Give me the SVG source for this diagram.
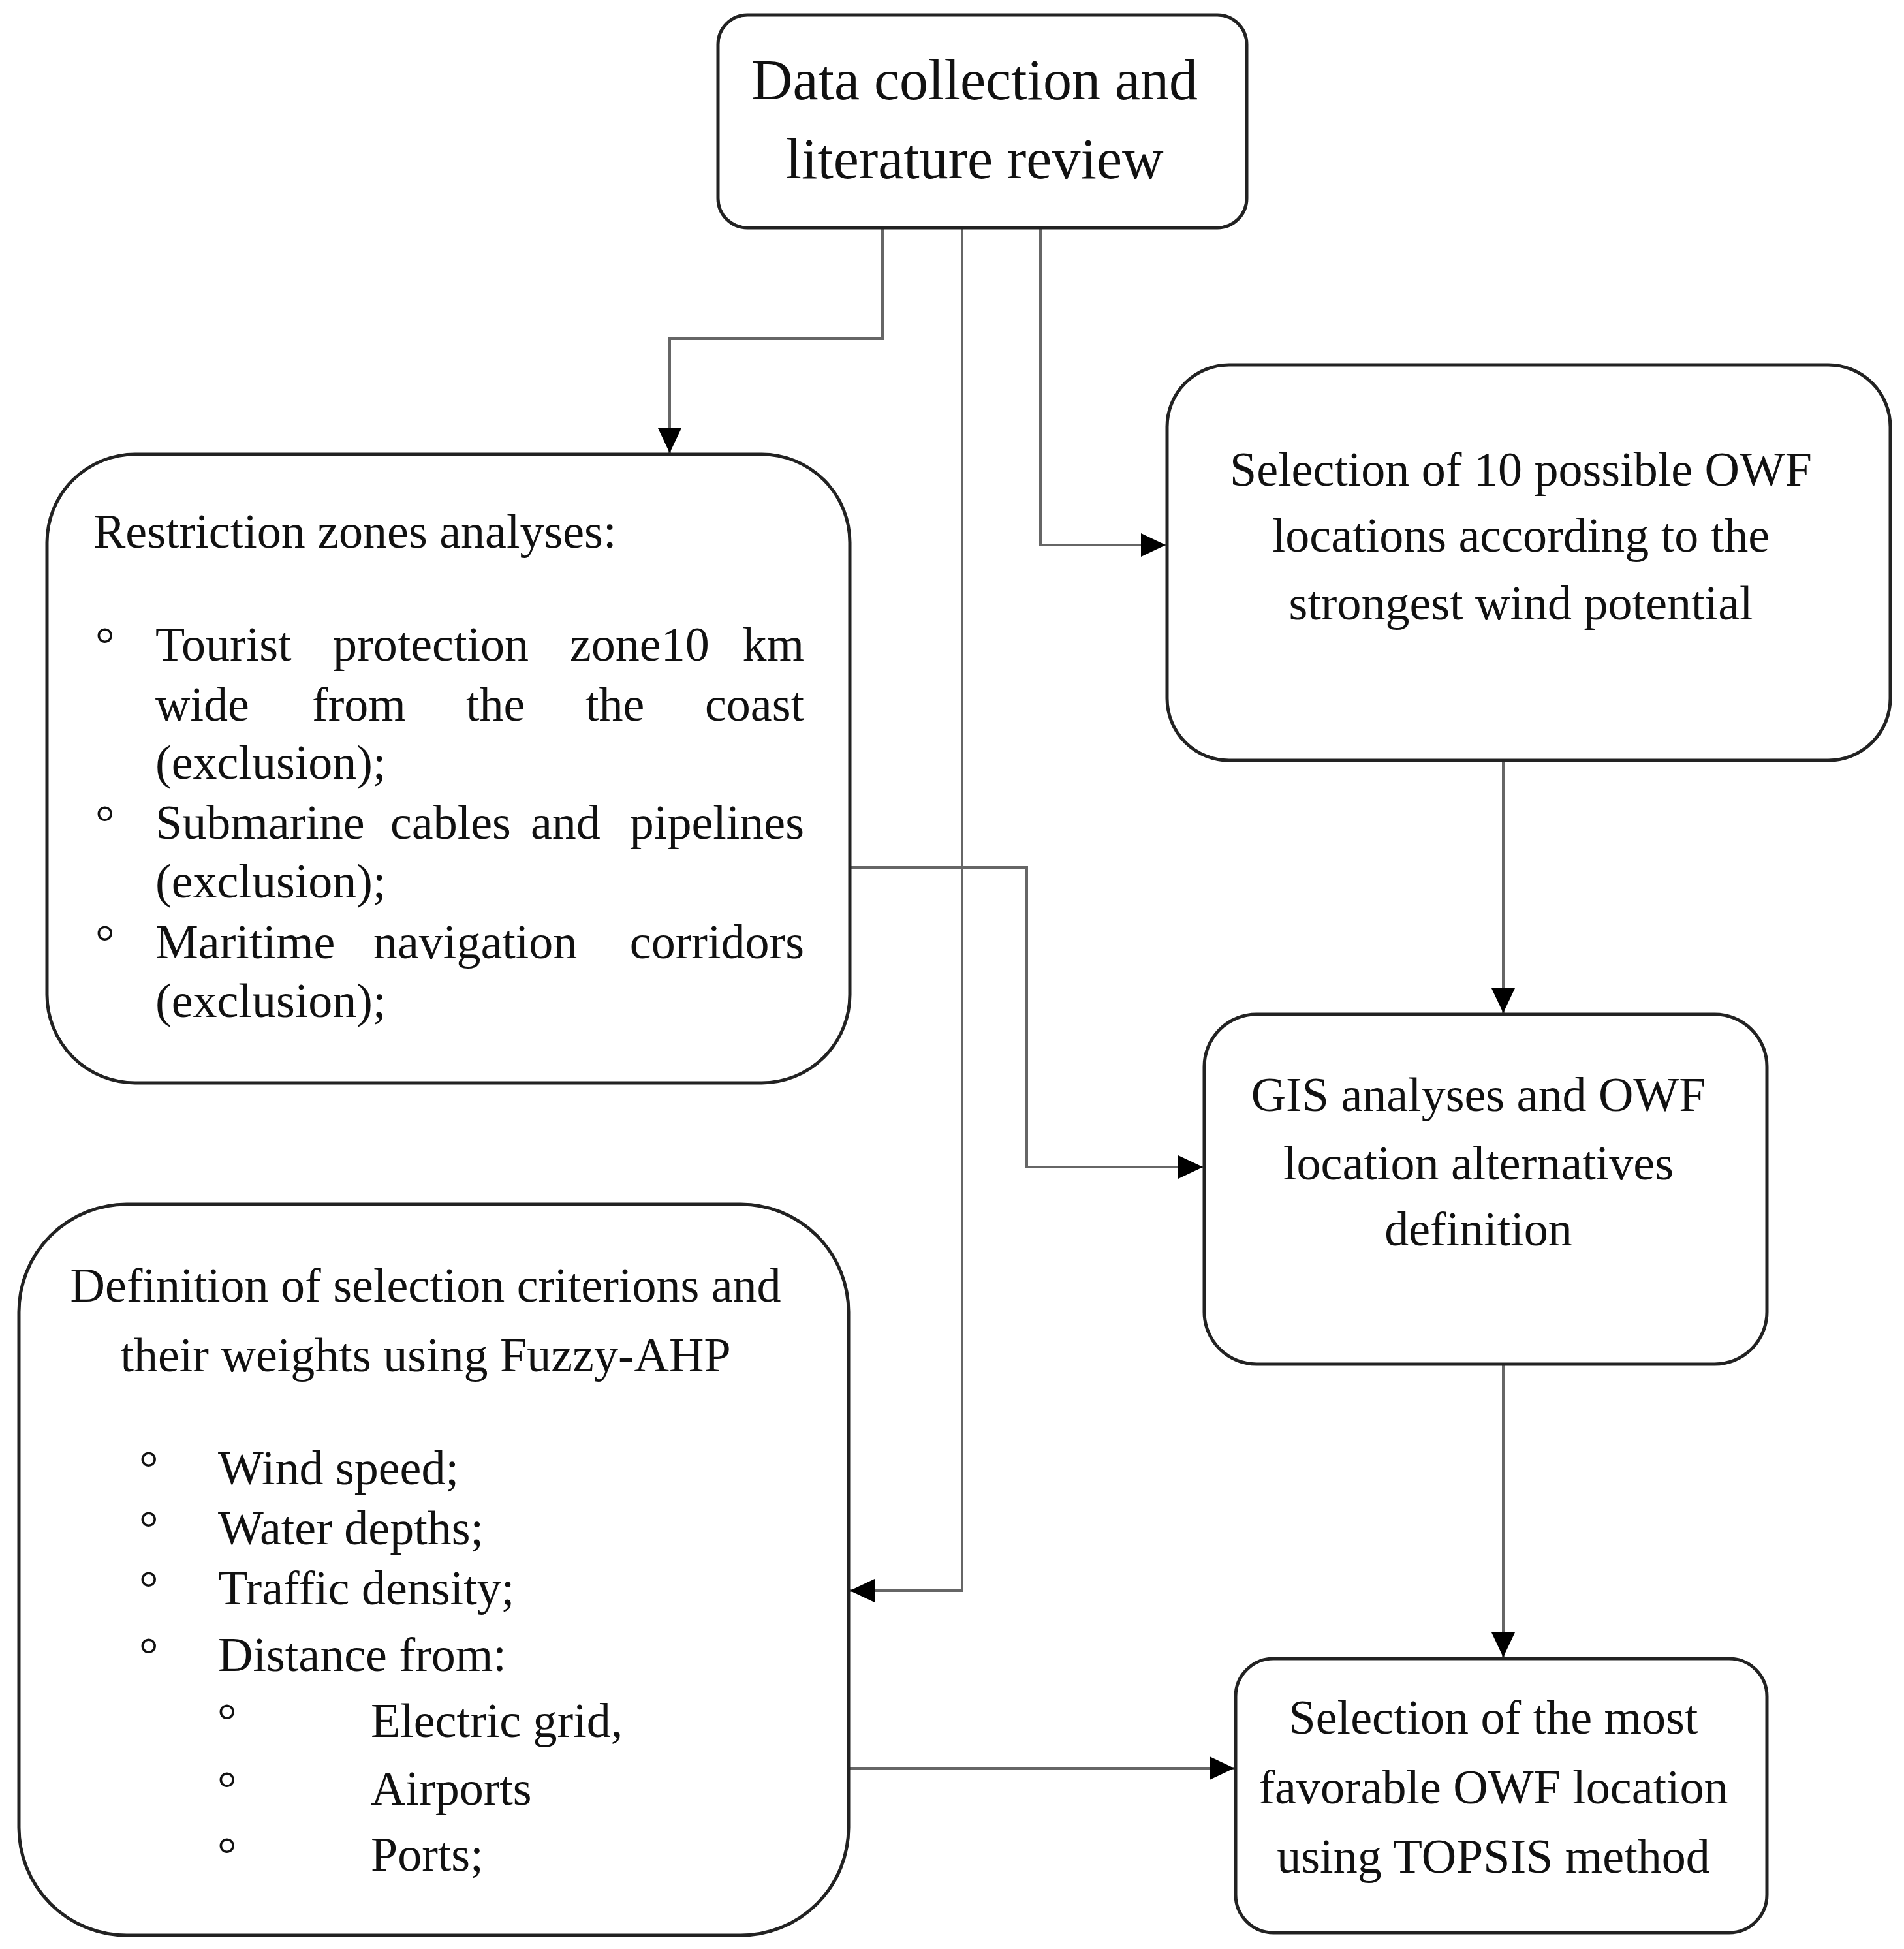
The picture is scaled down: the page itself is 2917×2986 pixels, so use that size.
<svg xmlns="http://www.w3.org/2000/svg" width="2917" height="2986" viewBox="0 0 2917 2986">
<style>
.box{fill:#fff;stroke:#222;stroke-width:5}
.t{font-family:"Liberation Serif","Times New Roman",serif;font-size:74px;fill:#111}
.big{font-size:88px}
.c{text-anchor:middle}
.e{text-anchor:end}
.con{fill:none;stroke:#666;stroke-width:4}
</style>
<defs>
<marker id="arr" markerUnits="userSpaceOnUse" markerWidth="40" markerHeight="36" refX="38" refY="18" orient="auto">
<path d="M0,0 L38,18 L0,36 Z" fill="#000"/>
</marker>
</defs>
<rect width="2917" height="2986" fill="#fff"/>
<g id="connectors">
<path class="con" d="M1352 349 V519 H1026 V694" marker-end="url(#arr)"/>
<path class="con" d="M1474 349 V2437 H1302" marker-end="url(#arr)"/>
<path class="con" d="M1594 349 V835 H1786" marker-end="url(#arr)"/>
<path class="con" d="M1302 1329 H1573 V1788 H1843" marker-end="url(#arr)"/>
<path class="con" d="M2303 1165 V1552" marker-end="url(#arr)"/>
<path class="con" d="M2303 2090 V2539" marker-end="url(#arr)"/>
<path class="con" d="M1300 2709 H1891" marker-end="url(#arr)"/>
</g>
<g id="n-data">
<rect class="box" x="1100" y="23" width="810" height="326" rx="45"/>
<text class="t big c" x="1493" y="152">Data collection and</text>
<text class="t big c" x="1493" y="273">literature review</text>
</g>
<g id="n-restriction">
<rect class="box" x="72" y="696" width="1230" height="963" rx="135"/>
<text class="t" x="143" y="839">Restriction zones analyses:</text>
<text class="t" x="146" y="1012">°</text>
<text class="t" x="238" y="1012">Tourist</text>
<text class="t" x="510" y="1012">protection</text>
<text class="t" x="873" y="1012">zone10</text>
<text class="t e" x="1232" y="1012">km</text>
<text class="t" x="238" y="1104">wide</text>
<text class="t" x="478" y="1104">from</text>
<text class="t" x="714" y="1104">the</text>
<text class="t" x="897" y="1104">the</text>
<text class="t e" x="1232" y="1104">coast</text>
<text class="t" x="238" y="1193">(exclusion);</text>
<text class="t" x="146" y="1285">°</text>
<text class="t" x="238" y="1285">Submarine</text>
<text class="t" x="598" y="1285">cables</text>
<text class="t" x="813" y="1285">and</text>
<text class="t e" x="1232" y="1285">pipelines</text>
<text class="t" x="238" y="1375">(exclusion);</text>
<text class="t" x="146" y="1468">°</text>
<text class="t" x="238" y="1468">Maritime</text>
<text class="t" x="572" y="1468">navigation</text>
<text class="t e" x="1232" y="1468">corridors</text>
<text class="t" x="238" y="1558">(exclusion);</text>
</g>
<g id="n-selection10">
<rect class="box" x="1788" y="559" width="1108" height="606" rx="95"/>
<text class="t c" x="2330" y="744">Selection of 10 possible OWF</text>
<text class="t c" x="2330" y="845">locations according to the</text>
<text class="t c" x="2330" y="949">strongest wind potential</text>
</g>
<g id="n-gis">
<rect class="box" x="1845" y="1554" width="862" height="536" rx="80"/>
<text class="t c" x="2265" y="1702">GIS analyses and OWF</text>
<text class="t c" x="2265" y="1807">location alternatives</text>
<text class="t c" x="2265" y="1908">definition</text>
</g>
<g id="n-definition">
<rect class="box" x="29" y="1845" width="1271" height="1120" rx="165"/>
<text class="t c" x="652" y="1994">Definition of selection criterions and</text>
<text class="t c" x="652" y="2101">their weights using Fuzzy-AHP</text>
<text class="t" x="213" y="2274">°</text>
<text class="t" x="334" y="2274">Wind speed;</text>
<text class="t" x="213" y="2366">°</text>
<text class="t" x="334" y="2366">Water depths;</text>
<text class="t" x="213" y="2458">°</text>
<text class="t" x="334" y="2458">Traffic density;</text>
<text class="t" x="213" y="2560">°</text>
<text class="t" x="334" y="2560">Distance from:</text>
<text class="t" x="333" y="2661">°</text>
<text class="t" x="568" y="2661">Electric grid,</text>
<text class="t" x="333" y="2765">°</text>
<text class="t" x="568" y="2765">Airports</text>
<text class="t" x="333" y="2866">°</text>
<text class="t" x="568" y="2866">Ports;</text>
</g>
<g id="n-topsis">
<rect class="box" x="1893" y="2541" width="814" height="420" rx="58"/>
<text class="t c" x="2288" y="2656">Selection of the most</text>
<text class="t c" x="2288" y="2763">favorable OWF location</text>
<text class="t c" x="2288" y="2869">using TOPSIS method</text>
</g>
</svg>
